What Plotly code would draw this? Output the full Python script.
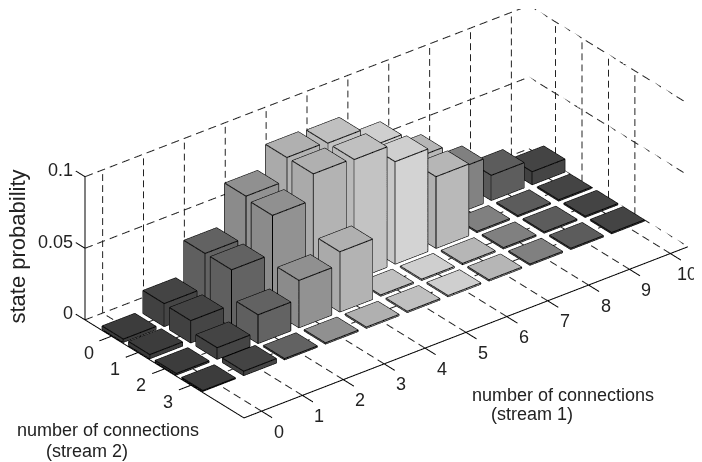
import numpy as np
import plotly.graph_objects as go

# number of connections, stream 1 / stream 2
stream1 = [0, 1, 2, 3, 4, 5, 6, 7, 8, 9, 10]
stream2 = [0, 1, 2, 3]

# state probability, one row per stream 2 value
row0 = [0.0022, 0.016, 0.040, 0.069, 0.085, 0.084, 0.070, 0.050, 0.031, 0.0175, 0.009]
row1 = [0.0028, 0.0155, 0.040, 0.067, 0.085, 0.084, 0.0715, 0.050, 0.0008, 0.0008, 0.0008]
row2 = [0.001, 0.008, 0.020, 0.033, 0.042, 0.0008, 0.0008, 0.0008, 0.0008, 0.0008, 0.0008]
row3 = [0.0005, 0.003, 0.0008, 0.0008, 0.0008, 0.0008, 0.0008, 0.0008, 0.0008, 0.0008, 0.0008]
rows = [row0, row1, row2, row3]

z_ticks = [0, 0.05, 0.1]
z_labels = ['0', '0.05', '0.1']

# one grey per stream 1 column
col_top = ['#3c3c3c', '#444444', '#626262', '#909090', '#b0b0b0', '#c0c0c0', '#cfcfcf', '#b6b6b6', '#808080', '#5c5c5c', '#444444']

xlim = [-0.43, 10.43]
ylim = [-1, 5]
zlim = [0, 0.1]
hw = 0.4
# room for the tick marks, the scene clips whatever is out of range
x_view = [xlim[0] - 0.3, xlim[1]]
y_view = [ylim[0] - 0.35, ylim[1] + 0.4]

# the page body has an 8px margin, so the figure is 8px smaller than the window
fig_w, fig_h = 694, 454

fig = go.Figure()


def shade(c, f):
    v = min(int(int(c[1:3], 16) * f), 255)
    return '#%02x%02x%02x' % (v, v, v)


def add_bar(x, y, h, c):
    x0, x1, y0, y1 = x - hw, x + hw, y - hw, y + hw
    vx = [x0, x1, x1, x0, x0, x1, x1, x0]
    vy = [y0, y0, y1, y1, y0, y0, y1, y1]
    vz = [0, 0, 0, 0, h, h, h, h]
    # top, then -x side, then +y side (the ones seen from the camera)
    i = [4, 4, 0, 0, 3, 3]
    j = [5, 6, 3, 7, 2, 6]
    k = [6, 7, 7, 4, 6, 7]
    cols = [c, c, shade(c, 0.97), shade(c, 0.97), shade(c, 1.02), shade(c, 1.02)]
    fig.add_trace(go.Mesh3d(x=vx, y=vy, z=vz, i=i, j=j, k=k, facecolor=cols, flatshading=True,
                            lighting=dict(ambient=1, diffuse=0, specular=0, fresnel=0),
                            hoverinfo='skip', showscale=False))
    ex = [x0, x1, x1, x0, x0, None, x0, x0, None, x0, x0, None, x1, x1, None, x1, x1]
    ey = [y0, y0, y1, y1, y0, None, y0, y0, None, y1, y1, None, y1, y1, None, y0, y0]
    ez = [h, h, h, h, h, None, 0, h, None, 0, h, None, 0, h, None, 0, h]
    ex += [None, x0, x0, x1, x1]
    ey += [None, y0, y1, y1, y0]
    ez += [None, 0, 0, 0, 0]
    fig.add_trace(go.Scatter3d(x=ex, y=ey, z=ez, mode='lines', line=dict(color='#000000', width=2),
                               hoverinfo='skip', showlegend=False))


def add_line(x, y, z, color='#000000', width=2):
    fig.add_trace(go.Scatter3d(x=x, y=y, z=z, mode='lines', line=dict(color=color, width=width),
                               hoverinfo='skip', showlegend=False))


def add_dashed(p0, p1, n):
    # n dash periods from p0 to p1; the dash option of scatter3d stretches with the data units
    t = np.linspace(0, 1, n + 1)
    xs, ys, zs = [], [], []
    for a in t[:-1]:
        b = a + 0.62 / n
        xs += [p0[0] + (p1[0] - p0[0]) * a, p0[0] + (p1[0] - p0[0]) * b, None]
        ys += [p0[1] + (p1[1] - p0[1]) * a, p0[1] + (p1[1] - p0[1]) * b, None]
        zs += [p0[2] + (p1[2] - p0[2]) * a, p0[2] + (p1[2] - p0[2]) * b, None]
    add_line(xs, ys, zs, color='#222222')


def paper(px, py):
    return dict(x=(px - 8) / fig_w, y=1 - (py - 8) / fig_h, xref='paper', yref='paper',
                xanchor='center', yanchor='middle', showarrow=False)


for yi, row in zip(stream2, rows):
    for xi, h in zip(stream1, row):
        add_bar(xi, yi, h, col_top[xi])

# dashed box walls and grid
for zt in z_ticks:
    add_dashed((xlim[0], ylim[0], zt), (xlim[1], ylim[0], zt), 36)
    add_dashed((xlim[1], ylim[0], zt), (xlim[1], ylim[1], zt), 14)
for xi in stream1:
    add_dashed((xi, ylim[0], zlim[0]), (xi, ylim[0], zlim[1]), 13)
    add_dashed((xi, ylim[1], 0), (xi, ylim[0], 0), 15)
for yi in stream2:
    add_dashed((xlim[1], yi, zlim[0]), (xlim[1], yi, zlim[1]), 13)
    add_dashed((xlim[0], yi, 0), (xlim[1], yi, 0), 36)

# solid axis lines and ticks
add_line([xlim[0], xlim[0]], [ylim[0], ylim[0]], zlim)
add_line([xlim[0], xlim[0]], ylim, [0, 0])
add_line(xlim, [ylim[1], ylim[1]], [0, 0])
for zt in z_ticks:
    add_line([xlim[0], xlim[0]], [ylim[0], y_view[0]], [zt, zt])
for xi in stream1:
    add_line([xi, xi], [ylim[1], y_view[1]], [0, 0])
for yi in stream2:
    add_line([xlim[0], x_view[0]], [yi, yi], [0, 0])

tick_font = dict(family='Liberation Sans', size=18, color='#222222')
label_font = dict(family='Liberation Sans', size=18, color='#222222')
ann = []
for xi in stream1:
    ann.append(dict(x=xi, y=ylim[1], z=0, text=str(xi), showarrow=False, font=tick_font, xshift=17, yshift=-20))
for yi in stream2:
    ann.append(dict(x=xlim[0], y=yi, z=0, text=str(yi), showarrow=False, font=tick_font, xshift=-23, yshift=-16))
for zt, lb in zip(z_ticks, z_labels):
    ann.append(dict(x=xlim[0], y=ylim[0], z=zt, text=lb, showarrow=False, font=tick_font, xanchor='right', xshift=-10, yshift=7))

eye_dist = 2.283
fig.update_layout(
    width=fig_w, height=fig_h,
    margin=dict(l=0, r=0, t=0, b=0),
    paper_bgcolor='white',
    showlegend=False,
    scene=dict(
        domain=dict(x=[56 / fig_w, 690 / fig_w], y=[1 - 412.5 / fig_h, 1 - 1.5 / fig_h]),
        aspectmode='manual',
        aspectratio=dict(x=2.83, y=1.403, z=0.798),
        camera=dict(eye=dict(x=-0.5405 * eye_dist, y=-0.6838 * eye_dist, z=0.487 * eye_dist),
                    center=dict(x=0, y=0, z=0), up=dict(x=0, y=0, z=1),
                    projection=dict(type='orthographic')),
        xaxis=dict(range=x_view, visible=False),
        yaxis=dict(range=y_view[::-1], visible=False),
        zaxis=dict(range=zlim, visible=False),
        annotations=ann,
    ),
    annotations=[
        dict(paper(16.5, 247), text='state probability', textangle=-90,
             font=dict(family='Liberation Sans', size=22, color='#222222')),
        dict(paper(108, 430), text='number of connections', font=label_font),
        dict(paper(87, 451), text='(stream 2)', font=label_font),
        dict(paper(563, 395), text='number of connections', font=label_font),
        dict(paper(532, 414), text='(stream 1)', font=label_font),
    ],
)

fig.write_html("out.html")
